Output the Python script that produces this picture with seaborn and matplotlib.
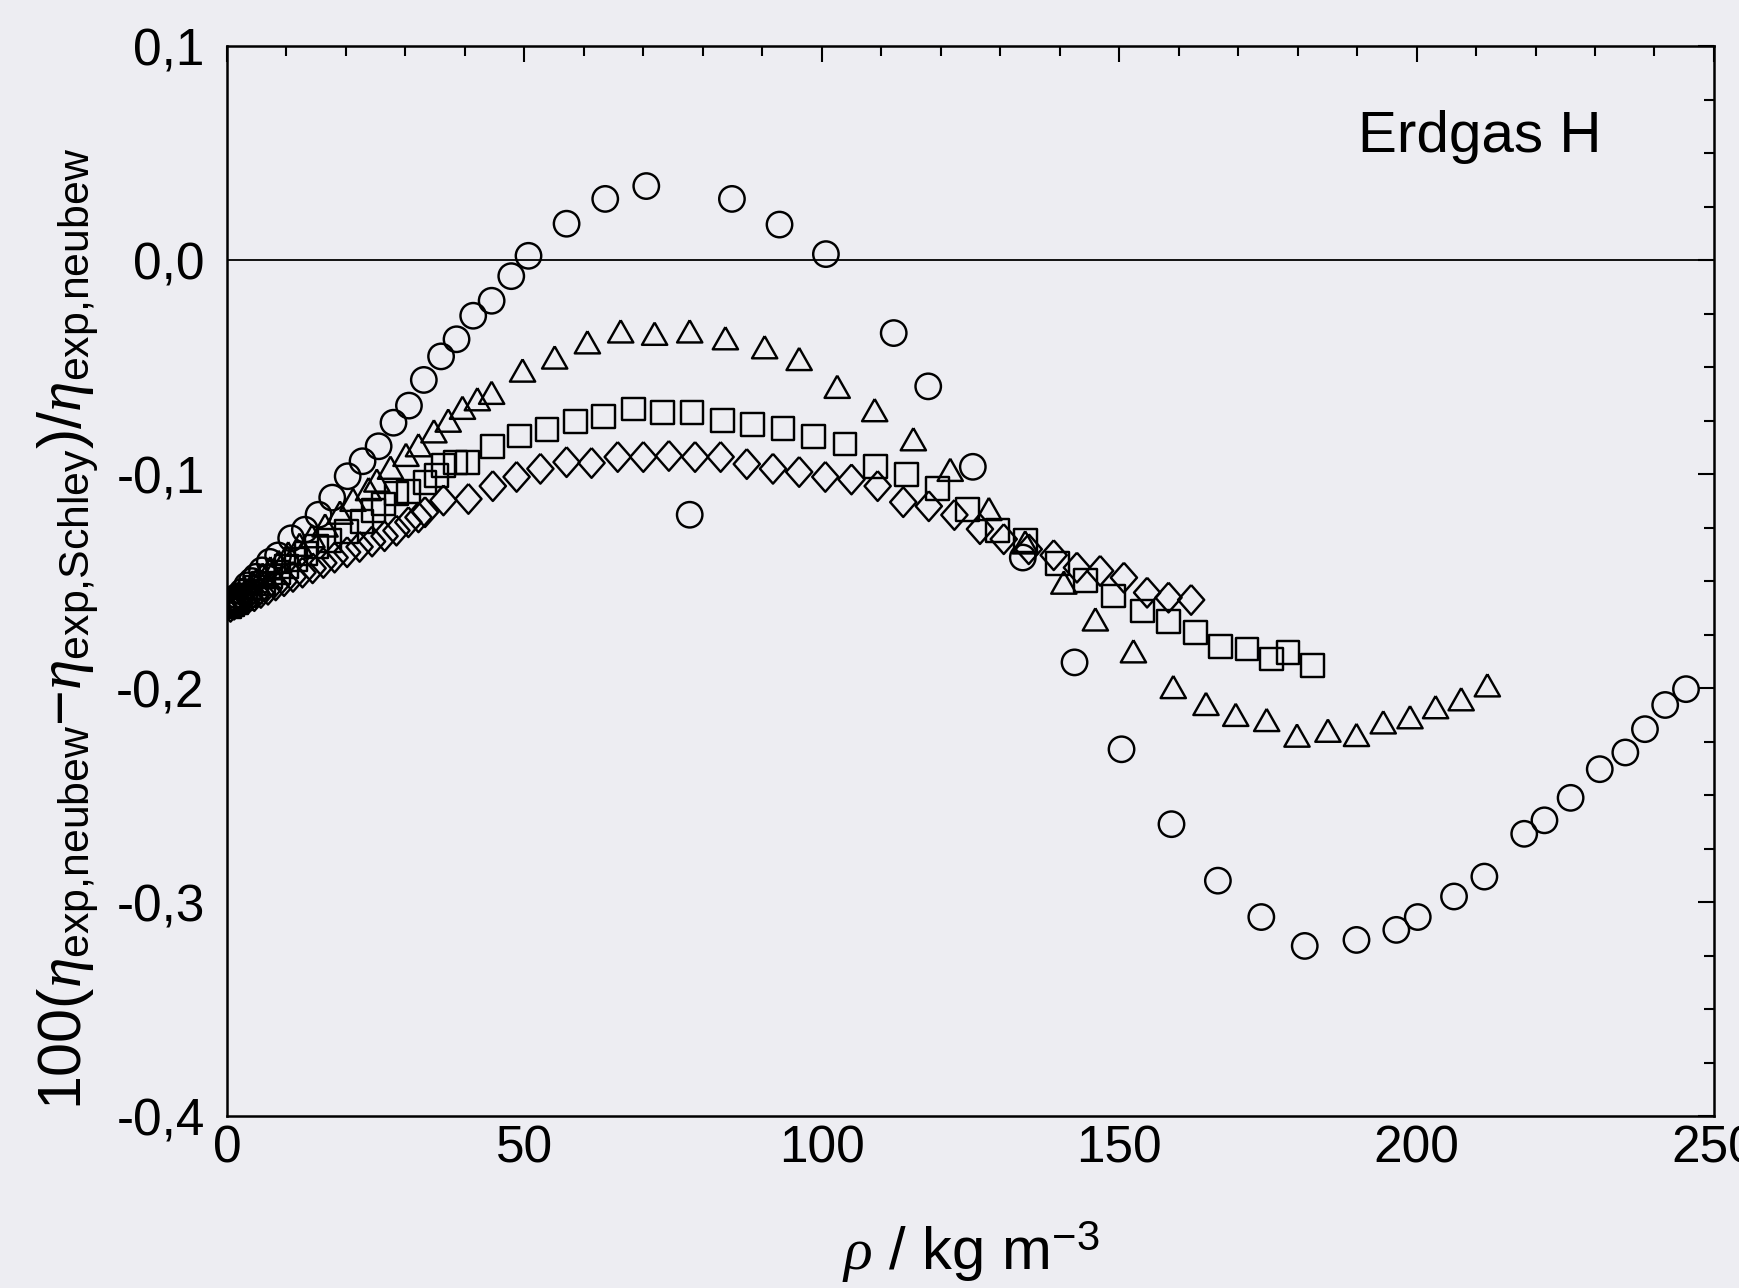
import matplotlib
matplotlib.use("Agg")
import matplotlib.pyplot as plt
from matplotlib.ticker import MultipleLocator
import seaborn as sns

# circles
rho_circ = [0.3, 0.8, 1.3, 1.9, 2.6, 3.4, 4.2, 4.9, 5.9, 7.2, 8.6, 10.8, 13.1, 15.4, 17.7,
            20.3, 22.8, 25.5, 28.0, 30.6, 33.1, 36.0, 38.6, 41.4, 44.5, 47.8, 50.7, 57.1,
            63.6, 70.5, 77.8, 84.9, 92.9, 100.7, 112.1, 117.9, 125.4, 133.8, 142.5, 150.4,
            158.8, 166.6, 173.9, 181.2, 189.9, 196.6, 200.2, 206.3, 211.4, 218.1, 221.5,
            225.9, 230.8, 235.1, 238.4, 241.8, 245.3]
dev_circ = [-0.161, -0.160, -0.159, -0.157, -0.155, -0.152, -0.150, -0.148, -0.145, -0.141,
            -0.138, -0.130, -0.126, -0.119, -0.111, -0.101, -0.094, -0.087, -0.076, -0.068,
            -0.056, -0.045, -0.037, -0.026, -0.019, -0.0075, 0.002, 0.017, 0.0286, 0.0346,
            -0.119, 0.0286, 0.0166, 0.0028, -0.0341, -0.059, -0.0966, -0.139, -0.188,
            -0.2286, -0.2636, -0.290, -0.307, -0.3205, -0.3177, -0.313, -0.307, -0.2974,
            -0.2881, -0.2681, -0.2618, -0.2513, -0.2379, -0.2301, -0.2192, -0.2079, -0.2005]

# triangles
rho_tri = [0.4, 0.9, 1.5, 2.2, 3.0, 3.9, 4.9, 6.0, 7.3, 8.7, 10.3, 12.2, 14.3, 16.5, 19.0,
           21.2, 23.8, 25.2, 27.5, 30.1, 32.2, 34.8, 37.2, 39.6, 42.1, 44.5, 49.7, 55.1,
           60.6, 66.2, 71.9, 77.8, 83.8, 90.4, 96.2, 102.6, 108.9, 115.4, 121.6, 128.1,
           134.2, 140.7, 146.0, 152.4, 159.1, 164.6, 169.6, 174.8, 179.9, 185.1, 189.9,
           194.4, 198.9, 203.2, 207.5, 211.9]
dev_tri = [-0.161, -0.160, -0.159, -0.157, -0.155, -0.153, -0.150, -0.147, -0.144, -0.141,
           -0.137, -0.133, -0.129, -0.124, -0.118, -0.112, -0.107, -0.103, -0.097, -0.091,
           -0.0865, -0.080, -0.075, -0.069, -0.065, -0.062, -0.0516, -0.0455, -0.0384,
           -0.0333, -0.0344, -0.0333, -0.0365, -0.0407, -0.0462, -0.0592, -0.0701, -0.0837,
           -0.098, -0.1163, -0.1319, -0.1507, -0.1679, -0.1828, -0.1995, -0.2074, -0.2125,
           -0.2149, -0.2222, -0.2199, -0.2219, -0.216, -0.2136, -0.2089, -0.2052, -0.1987]

# squares
rho_sq = [0.5, 1.0, 1.6, 2.3, 3.1, 4.0, 5.0, 6.1, 7.3, 8.6, 10.0, 11.6, 13.3, 15.1, 17.2,
          20.1, 22.7, 24.6, 26.3, 28.5, 30.5, 33.3, 35.3, 36.4, 38.4, 40.5, 44.6, 49.2,
          53.8, 58.6, 63.3, 68.3, 73.2, 78.2, 83.3, 88.4, 93.5, 98.6, 103.9, 109.0, 114.3,
          119.5, 124.5, 129.5, 134.2, 139.6, 144.3, 149.1, 153.9, 158.3, 162.8, 167.0,
          171.5, 175.6, 178.4, 182.5]
dev_sq = [-0.162, -0.161, -0.160, -0.158, -0.157, -0.155, -0.153, -0.151, -0.148, -0.146,
          -0.143, -0.140, -0.137, -0.134, -0.131, -0.127, -0.122, -0.117, -0.114, -0.109,
          -0.108, -0.104, -0.1006, -0.096, -0.0944, -0.0944, -0.0873, -0.0822, -0.0792,
          -0.0756, -0.0729, -0.0696, -0.0714, -0.0714, -0.0748, -0.0769, -0.0787, -0.0826,
          -0.0859, -0.0964, -0.1003, -0.1069, -0.1166, -0.1264, -0.1311, -0.1416, -0.1499,
          -0.157, -0.164, -0.1687, -0.1739, -0.1804, -0.1817, -0.1864, -0.1832, -0.1895]

# diamonds
rho_dia = [0.6, 1.2, 1.9, 2.7, 3.6, 4.6, 5.7, 6.9, 8.2, 9.6, 11.1, 12.7, 14.4, 16.2, 18.1,
           20.2, 22.3, 24.4, 26.5, 28.5, 30.5, 32.2, 33.3, 36.4, 40.6, 44.7, 48.7, 52.7,
           57.1, 61.3, 65.7, 70.0, 74.3, 78.7, 83.0, 87.4, 91.8, 96.2, 100.6, 105.0, 109.4,
           113.7, 118.0, 122.3, 126.6, 130.6, 134.8, 139.0, 142.9, 146.8, 150.8, 154.7,
           158.3, 162.1]
dev_dia = [-0.162, -0.161, -0.160, -0.159, -0.158, -0.157, -0.1555, -0.154, -0.152, -0.150,
           -0.148, -0.146, -0.144, -0.1415, -0.139, -0.1365, -0.134, -0.1315, -0.129,
           -0.1264, -0.1225, -0.1202, -0.1178, -0.1123, -0.1116, -0.1056, -0.1013, -0.0975,
           -0.0944, -0.0948, -0.092, -0.092, -0.0915, -0.092, -0.092, -0.0953, -0.0975,
           -0.099, -0.1013, -0.1025, -0.1056, -0.1131, -0.115, -0.1191, -0.1257, -0.1304,
           -0.1351, -0.1379, -0.1437, -0.1452, -0.1484, -0.1554, -0.1577, -0.1588]

yticks = [-0.4, -0.3, -0.2, -0.1, 0.0, 0.1]
ytick_labels = ["-0,4", "-0,3", "-0,2", "-0,1", "0,0", "0,1"]
xticks = [0, 50, 100, 150, 200, 250]

bg = "#EDEDF2"
sns.set_theme(style="white")
plt.rcParams["font.family"] = ["Liberation Sans", "DejaVu Sans"]
plt.rcParams["mathtext.fontset"] = "custom"
plt.rcParams["mathtext.rm"] = "Liberation Sans"
plt.rcParams["mathtext.it"] = "Liberation Serif:italic"
plt.rcParams["mathtext.bf"] = "Liberation Sans:bold"

fig = plt.figure(figsize=(17.39, 12.88), dpi=100, facecolor=bg)
ax = fig.add_axes([0.1305, 0.1335, 0.8551, 0.8307])
ax.set_facecolor(bg)

tri = [(0, 0.88), (-1, -0.88), (1, -0.88), (0, 0.88)]
dia = [(0, 1), (0.88, 0), (0, -1), (-0.88, 0), (0, 1)]
common = dict(facecolor="none", edgecolor="black", linewidth=1.75, ax=ax, zorder=3)

sns.scatterplot(x=rho_circ, y=dev_circ, marker="o", s=335, **common)
sns.scatterplot(x=rho_tri, y=dev_tri, marker=tri, s=330, **common)
sns.scatterplot(x=rho_sq, y=dev_sq, marker="s", s=270, **common)
sns.scatterplot(x=rho_dia, y=dev_dia, marker=dia, s=460, **common)

ax.axhline(0, color="black", lw=1.3, zorder=2)

ax.set_xlim(0, 250)
ax.set_ylim(-0.4, 0.1)
ax.set_xticks(xticks)
ax.set_yticks(yticks)
ax.set_yticklabels(ytick_labels)
ax.xaxis.set_minor_locator(MultipleLocator(10))
ax.yaxis.set_minor_locator(MultipleLocator(0.025))
ax.grid(False)

for sp in ax.spines.values():
    sp.set_visible(True)
    sp.set_color("black")
    sp.set_linewidth(1.8)

ax.tick_params(which="both", direction="in", top=True, right=True, color="black",
               width=1.5, labelsize=37, labelcolor="black")
ax.tick_params(which="major", length=11.5)
ax.tick_params(which="minor", length=7)
ax.tick_params(axis="x", which="major", pad=6)
ax.tick_params(axis="y", which="major", pad=16)

ax.set_xlabel(r"$\rho$ / kg m$^{\mathrm{-3}}$", fontsize=43, color="black", va="top")
ax.xaxis.set_label_coords(0.5, -0.097)
ax.set_ylabel(r"$\mathrm{100(}\eta_{\mathrm{exp{,}neubew}}\mathrm{-}\eta_{\mathrm{exp{,}Schley}}\mathrm{)/}\eta_{\mathrm{exp{,}neubew}}$",
              fontsize=44, color="black")
ax.yaxis.set_label_coords(-0.085, 0.455)

ax.text(0.8426, 0.901, "Erdgas H", transform=ax.transAxes, ha="center", va="baseline",
        fontsize=42, color="black")

fig.savefig("out.png", dpi=100, facecolor=bg)
